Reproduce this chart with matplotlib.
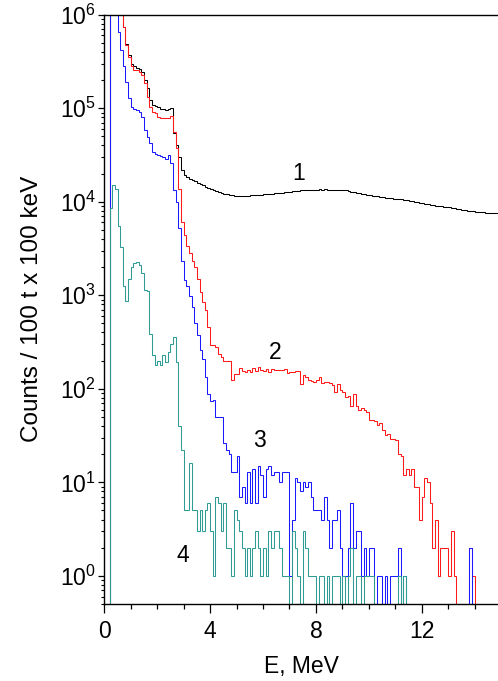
# %% SETUP
import numpy as np
import matplotlib
matplotlib.use("Agg")
import matplotlib.pyplot as plt
from matplotlib.ticker import MultipleLocator, LogLocator, NullFormatter, FixedLocator

plt.rcParams['font.family'] = ['Liberation Sans', 'DejaVu Sans']
plt.rcParams['mathtext.fontset'] = 'custom'
plt.rcParams['mathtext.rm'] = 'Liberation Sans'
plt.rcParams['mathtext.it'] = 'Liberation Sans:italic'

# energy bins of 100 keV, left edge of the first bin at 0.2 MeV
bin_edges = np.round(np.arange(0.2, 14.95, 0.1), 2)

# counts per bin (values above 1e6 are off the top of the plot)
counts_1 = [
    2e6, 2e6, 2e6, 2e6, 2e6, 7.4e5, 4.9e5, 3.7e5,
    2.97e5, 2.8e5, 2.7e5, 2.6e5, 2.45e5, 2.0e5, 1.63e5, 1.22e5, 1.08e5, 1.05e5,
    1.02e5, 9.9e4, 9.7e4, 9.6e4, 9.9e4, 1.0e5, 5.4e4, 4.0e4, 3.0e4, 2.17e4,
    1.95e4, 1.85e4, 1.77e4, 1.72e4, 1.65e4, 1.6e4, 1.55e4, 1.5e4, 1.45e4, 1.4e4,
    1.37e4, 1.33e4, 1.3e4, 1.27e4, 1.24e4, 1.22e4, 1.2e4, 1.18e4, 1.17e4, 1.16e4,
    1.15e4, 1.15e4, 1.15e4, 1.16e4, 1.16e4, 1.17e4, 1.17e4, 1.18e4, 1.19e4, 1.19e4,
    1.2e4, 1.21e4, 1.22e4, 1.22e4, 1.23e4, 1.24e4, 1.24e4, 1.25e4, 1.26e4, 1.27e4,
    1.28e4, 1.3e4, 1.3e4, 1.31e4, 1.32e4, 1.32e4, 1.33e4, 1.33e4, 1.34e4, 1.34e4,
    1.35e4, 1.36e4, 1.35e4, 1.36e4, 1.35e4, 1.35e4, 1.34e4, 1.35e4, 1.34e4, 1.34e4,
    1.33e4, 1.32e4, 1.3e4, 1.28e4, 1.27e4, 1.25e4, 1.23e4, 1.22e4, 1.2e4, 1.19e4,
    1.17e4, 1.16e4, 1.15e4, 1.14e4, 1.13e4, 1.12e4, 1.11e4, 1.1e4, 1.09e4, 1.08e4,
    1.08e4, 1.07e4, 1.06e4, 1.05e4, 1.04e4, 1.03e4, 1.02e4, 1.0e4, 9.9e3, 9.8e3,
    9.7e3, 9.55e3, 9.4e3, 9.3e3, 9.25e3, 9.1e3, 9.0e3, 8.9e3, 8.85e3, 8.8e3,
    8.7e3, 8.6e3, 8.5e3, 8.4e3, 8.3e3, 8.2e3, 8.1e3, 8.05e3, 8.0e3, 7.9e3,
    7.85e3, 7.8e3, 7.75e3, 7.7e3, 7.65e3, 7.6e3, 7.55e3, 7.5e3, 7.5e3,
]

counts_2 = [
    2e6, 2e6, 2e6, 2e6, 2e6, 7.3e5, 4.8e5, 3.5e5,
    2.8e5, 2.56e5, 2.55e5, 2.45e5, 2.26e5, 1.84e5, 1.32e5, 1.03e5, 9.1e4, 8.8e4,
    8.1e4, 7.8e4, 7.8e4, 7.9e4, 7.9e4, 8.3e4, 5.6e4, 3.8e4, 1.38e4, 6.1e3,
    4.4e3, 3.4e3, 2.8e3, 2.3e3, 2.0e3, 1.5e3, 1.08e3, 845, 689, 457,
    291, 291, 280, 237, 219, 200, 200, 200, 123, 145,
    145, 168, 155, 152, 160, 152, 167, 155, 172, 160,
    155, 163, 152, 163, 157, 160, 160, 157, 163, 147,
    152, 152, 154, 154, 113, 140, 135, 123, 121, 118,
    123, 135, 116, 118, 118, 116, 109, 93, 113, 96,
    93, 81, 84, 66, 88, 66, 59, 63, 59, 57,
    46, 46, 45, 41, 43, 36, 32, 33, 29, 29,
    28, 20, 19, 12, 14, 12, 14, 9, 9, 4,
    7, 11, 10, 6, 2, 4, 1, 2, 2, 2,
    1, 3, 1, 0, 0, 0, 0, 0, 2, 1,
    0, 0, 0, 0, 0, 0, 0, 0, 0,
]

counts_3 = [
    2e6, 2e6, 2e6, 6.6e5, 4.2e5, 2.8e5, 1.92e5, 1.3e5,
    1.03e5, 9.7e4, 9.6e4, 9.1e4, 8.1e4, 5.8e4, 4.9e4, 4.2e4, 3.4e4, 3.25e4,
    3.2e4, 3.05e4, 3.0e4, 2.9e4, 3.15e4, 2.6e4, 1.35e4, 1.0e4, 5.2e3, 2.3e3,
    1.45e3, 1.25e3, 980, 750, 500, 372, 257, 210, 133, 88,
    74, 76, 50, 50, 50, 26, 22, 20, 13, 13,
    19, 7, 9, 6, 13, 6, 14, 6, 15, 12,
    7, 14, 15, 12, 13, 13, 10, 13, 13, 13,
    1, 4, 11, 10, 8, 10, 9, 10, 7, 5,
    5, 5, 4, 7, 4, 2, 4, 4, 5, 2,
    1, 1, 2, 6, 2, 3, 3, 1, 2, 1,
    2, 2, 0, 1, 1, 0, 1, 0, 1, 1,
    1, 2, 0, 1, 0, 0, 0, 0, 0, 0,
    0, 0, 0, 0, 0, 0, 0, 0, 0, 0,
    0, 0, 0, 0, 0, 0, 0, 0, 2, 0,
    0, 0, 0, 0, 0, 0, 0, 0, 0,
]

counts_4 = [
    8.6e3, 1.52e4, 1.38e4, 5.5e3, 3.3e3, 1.25e3, 870, 1.5e3,
    2.0e3, 2.2e3, 2.25e3, 2.1e3, 1.75e3, 1.15e3, 1.1e3, 390, 228, 178,
    200, 178, 228, 195, 250, 300, 355, 193, 40, 22,
    5, 5, 16, 5, 5, 3, 5, 3, 5, 6,
    3, 1, 7, 6, 3, 6, 2, 2, 1, 5,
    4, 3, 2, 1, 2, 1, 2, 3, 2, 1,
    2, 1, 3, 2, 3, 3, 2, 1, 1, 1,
    0, 3, 2, 1, 0, 3, 2, 1, 1, 1,
    0, 1, 1, 0, 1, 0, 1, 1, 1, 0,
    1, 0, 1, 2, 0, 1, 1, 0, 1, 1,
    1, 1, 0, 0, 0, 0, 0, 0, 0, 0,
    0, 1, 0, 1, 0, 0, 0, 0, 0, 0,
    0, 0, 0, 0, 0, 0, 0, 0, 0, 0,
    0, 0, 0, 0, 0, 0, 0, 0, 0, 0,
    0, 0, 0, 0, 0, 0, 0, 0, 0,
]

series = [counts_1, counts_2, counts_3, counts_4]
colors = ['#000000', '#ff1a1a', '#1a1aff', '#2e9c94']

# curve labels and where they sit (MeV, counts)
curve_labels = ['1', '2', '3', '4']
label_x = [7.35, 6.45, 5.85, 2.95]
label_y = [2.0e4, 245, 28, 1.64]

# decades shown on the y axis
y_decades = [1e0, 1e1, 1e2, 1e3, 1e4, 1e5, 1e6]


# %% PLOT
fig = plt.figure(figsize=(4.98, 6.81), dpi=100)
ax = fig.add_axes([0.2094, 0.1131, 0.7906, 0.8653])

floor = 1e-3  # empty bins drop below the axis
for counts, color in zip(series, colors):
    vals = np.array(counts, dtype=float)
    vals = np.where(vals > 0, vals, floor)
    ax.stairs(vals, bin_edges, baseline=floor, color=color, linewidth=0.75)

for text, x, y in zip(curve_labels, label_x, label_y):
    ax.text(x, y, text, fontsize=16.5, ha='center', va='center')

ax.set_yscale('log')
ax.set_ylim(0.5, 1e6)
ax.set_xlim(0, 14.88)

ax.xaxis.set_major_locator(MultipleLocator(4))
ax.xaxis.set_minor_locator(MultipleLocator(1))
ax.yaxis.set_major_locator(FixedLocator(y_decades))
ax.yaxis.set_minor_locator(LogLocator(base=10, subs=np.arange(2, 10), numticks=20))
ax.yaxis.set_minor_formatter(NullFormatter())

ax.tick_params(axis='x', which='major', direction='out', length=6.5, width=0.9,
               labelsize=16.5, pad=5)
ax.tick_params(axis='x', which='minor', direction='out', length=3.5, width=0.9)
ax.tick_params(axis='y', which='major', direction='out', length=4, width=0.9,
               labelsize=16.5, pad=2)
ax.tick_params(axis='y', which='minor', direction='out', length=2.2, width=0.8)

ax.spines['right'].set_visible(False)
for side in ['left', 'bottom', 'top']:
    ax.spines[side].set_linewidth(1.0)

ax.set_xlabel('E, MeV', fontsize=16.5, labelpad=9)
ax.set_ylabel('Counts / 100 t x 100 keV', fontsize=17.5, labelpad=12)

fig.savefig('out.png', dpi=100)
